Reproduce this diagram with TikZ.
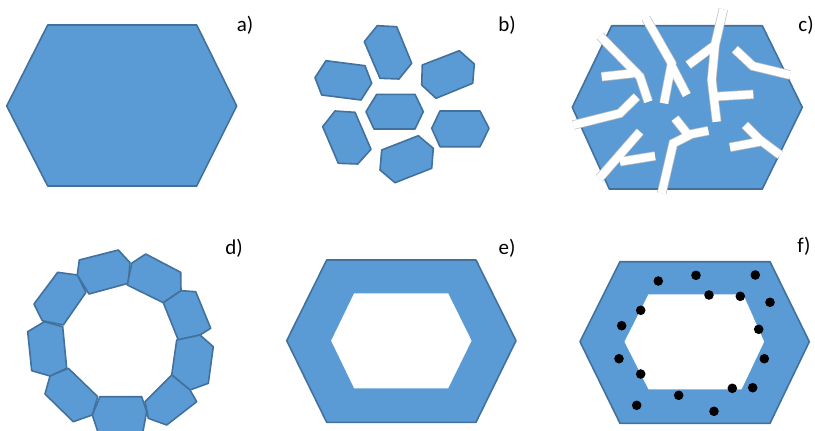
\documentclass[tikz,border=0pt]{standalone}
\usepackage{fontspec}
\setmainfont{Carlito}
\usepackage{xcolor}
\definecolor{grainblue}{RGB}{91,155,213}
\definecolor{grainedge}{RGB}{65,113,156}

\begin{document}
\begin{tikzpicture}[x=1pt,y=-1pt,
  grain/.style={draw=grainedge,fill=grainblue,line width=1.6pt,line join=round},
  shell/.style={fill=grainblue,even odd rule},
  crackedge/.style={draw=black!25,line width=9.4pt},
  crackfill/.style={draw=white,line width=8pt},
  dot/.style={fill=black},
  tag/.style={font=\fontsize{21}{24}\selectfont}]
  \useasboundingbox (0,0) rectangle (815,431);
  \clip (0,0) rectangle (815,431);
  % a)
  \draw[grain] (6.7,106)--(47.7,25)--(196.7,25)--(236.7,106)--(196.7,186)--(47.7,186)--cycle;
  \node[tag] (la) at (245,25) {a)};
  % b)
  \draw[grain] (377.3,25.7)--(396.7,26.7)--(411.7,63.3)--(399,79)--(380,78.3)--(364.3,41.7)--cycle;
  \draw[grain] (326,60.7)--(365,65.7)--(371.7,83.3)--(361,100)--(321.7,95)--(315,77.7)--cycle;
  \draw[grain] (422.3,65)--(459.3,50.7)--(474.3,64)--(472.7,83.3)--(436,98.3)--(421.7,85)--cycle;
  \draw[grain] (376.7,94.3)--(415,94.3)--(423.3,111.7)--(415,129)--(374,129)--(366,111.7)--cycle;
  \draw[grain] (335,111)--(355,112.3)--(371,149.3)--(357.7,164)--(338.3,163.3)--(322.7,126.7)--cycle;
  \draw[grain] (440,111)--(480,111)--(489,128.3)--(480,146.7)--(440,146.7)--(431.7,128.3)--cycle;
  \draw[grain] (381.7,150)--(418.3,135.7)--(433.3,148.3)--(431.7,168.3)--(395,182.7)--(380,170)--cycle;
  \node[tag] (lb) at (507,25) {b)};
  % c)
  \draw[grain] (572.3,107.3)--(611.7,25.7)--(762.3,25.7)--(802.3,107.3)--(762.3,189)--(609.3,189)--cycle;
  \def\cracks{(600,36)--(640,76.7)--(648.3,101.7) (601.7,76.7)--(633.3,73.3)
    (646,18.3)--(671.7,63.3)--(664,103.3) (671.7,66)--(686.7,95)
    (723.3,9.3)--(715,45)--(711.7,80)--(716.7,121.7) (715,45)--(688.3,65) (713,96.7)--(753.3,94.3)
    (735,49.3)--(752.7,66)--(790,75)
    (573.3,125)--(620,113.3)--(636.7,96.7)
    (599.3,178.3)--(640,131.7) (620,161.7)--(655,156)
    (661.7,193.3)--(673.3,143.3)--(691.7,134)--(708.3,130.7) (688.3,135)--(675,118.3)
    (745,125)--(760,140)--(780,155) (730,147.3)--(760,141.7)}
  \draw[crackedge] \cracks;
  \draw[crackfill] \cracks;
  \node[tag] (lc) at (806,25) {c)};
  % d)
  \draw[grain] (34,304)--(57.7,272.3)--(77.3,275)--(86,292.3)--(63.3,325)--(42.3,320.7)--cycle;
  \draw[grain] (79.3,260)--(118.3,250)--(130,262.7)--(128.3,283.3)--(89,294)--(77.3,275)--cycle;
  \draw[grain] (131.7,263.3)--(145.7,254)--(180.7,272.3)--(181,290.7)--(163.3,302.7)--(127.3,285)--cycle;
  \draw[grain] (163.3,302.7)--(181,290.7)--(195.7,291.7)--(210.7,328.3)--(200,335)--(178.3,340)--cycle;
  \draw[grain] (176.7,340)--(200,335)--(213.3,346.7)--(208.3,383.3)--(190,390)--(171.7,375)--cycle;
  \draw[grain] (145,401.7)--(171.7,375)--(190,390)--(196.7,401.7)--(166.7,425)--(148.3,418.3)--cycle;
  \draw[grain] (100,396.7)--(141.7,396.7)--(146.7,411.7)--(141.7,438)--(100,438)--(92.3,415)--cycle;
  \draw[grain] (50,376)--(68.3,368.3)--(97.7,396.7)--(92.3,415)--(73.3,421.7)--(45,394)--cycle;
  \draw[grain] (27.7,331.7)--(44.3,321.7)--(62.7,326.7)--(66.7,368.3)--(50,376)--(31.7,370.7)--cycle;
  \node[tag] (ld) at (234,248) {d)};
  % e)
  \fill[shell] (286.7,340.7)--(326.7,260)--(476,260)--(516,340.7)--(476,422.3)--(326.7,422.3)--cycle
    (331,340.7)--(354,293.3)--(448.3,293.3)--(471.7,340.7)--(448.3,388.3)--(354,388.3)--cycle;
  \draw[grain,fill=none] (286.7,340.7)--(326.7,260)--(476,260)--(516,340.7)--(476,422.3)--(326.7,422.3)--cycle;
  \node[tag] (le) at (507,248) {e)};
  % f)
  \fill[shell] (580,341.7)--(620,261.7)--(770,261.7)--(809.3,341.7)--(770,423.3)--(620,423.3)--cycle
    (624.3,341.7)--(648.3,294.3)--(743.3,294.3)--(764.3,341.7)--(741.7,389.3)--(648.3,389.3)--cycle;
  \draw[grain,fill=none] (580,341.7)--(620,261.7)--(770,261.7)--(809.3,341.7)--(770,423.3)--(620,423.3)--cycle;
  \foreach \p in {(658.3,281),(696,275.3),(755.3,275),(709,295),(740.3,296.3),(770,302.3),
    (640.7,310.3),(621.7,325.7),(758.7,329.3),(619,358.7),(764.3,358.7),(640.7,374),
    (752.7,387.7),(732.3,388.3),(678.7,395.3),(636.7,405.3),(714,411.3)}
    \fill[dot] \p circle (4.8);
  \node[tag] (lf) at (804,246) {f)};
\end{tikzpicture}
\end{document}
